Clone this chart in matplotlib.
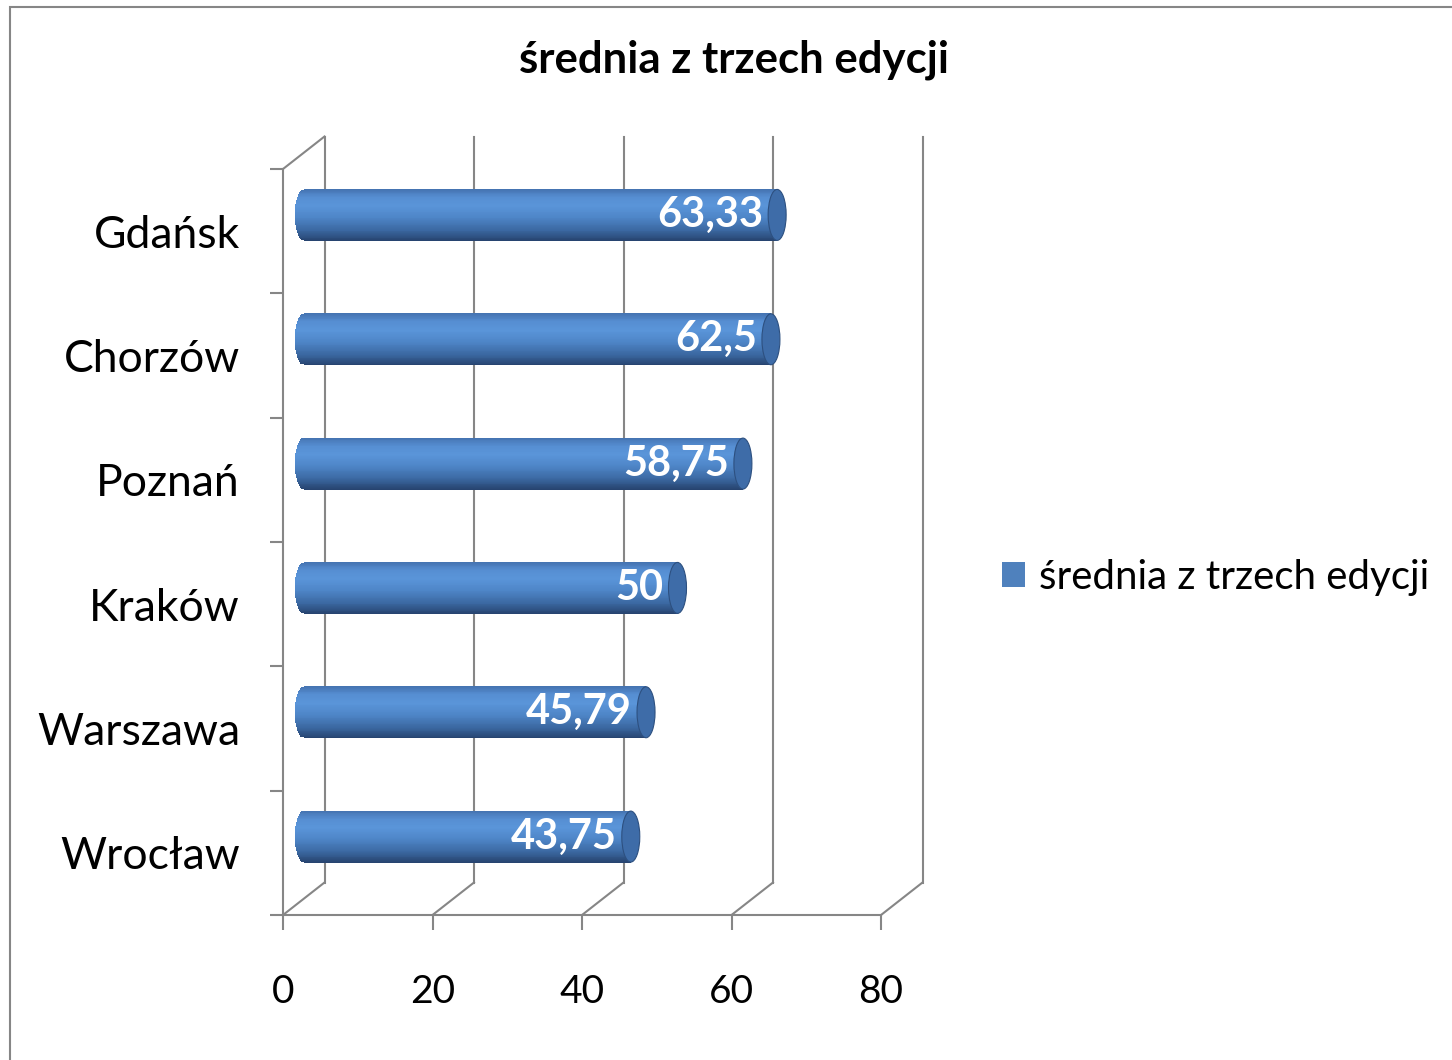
import numpy as np
import matplotlib
matplotlib.use("Agg")
import matplotlib.pyplot as plt
from matplotlib.colors import LinearSegmentedColormap
from matplotlib.patches import Ellipse, Patch, Rectangle

plt.rcParams["font.family"] = ["Lato", "DejaVu Sans"]

# data, top to bottom as shown
cities = ["Gdańsk", "Chorzów", "Poznań", "Kraków", "Warszawa", "Wrocław"]
values = [63.33, 62.5, 58.75, 50, 45.79, 43.75]
value_labels = ["63,33", "62,5", "58,75", "50", "45,79", "43,75"]
x_ticks = [0, 20, 40, 60, 80]
series_name = "średnia z trzech edycji"

GRID = "#868686"
BAR = "#4f81bd"

W, H = 1452, 1060
fig = plt.figure(figsize=(W / 100, H / 100), dpi=100)

# front plane of the 3d box
ax_rect = [283 / W, (H - 915) / H, (881 - 283) / W, (915 - 169) / H]
ax = fig.add_axes(ax_rect)
ax.set_xlim(0, 80)
ax.set_ylim(len(cities), 0)
ax.patch.set_alpha(0)

# depth of the box, converted from pixels to data units
px_x = W * ax_rect[2] / 80
px_y = H * ax_rect[3] / len(cities)
DX = 41.5 / px_x
DY = 32.5 / px_y
ny = len(cities)

# back wall gridlines
for x in x_ticks:
    ax.plot([x + DX, x + DX], [ny - DY, -DY], color=GRID, lw=1.5, zorder=1, clip_on=False)
    # floor diagonals
    ax.plot([x, x + DX], [ny, ny - DY], color=GRID, lw=1.5, zorder=1, clip_on=False)
# left wall top edge
ax.plot([0, DX], [0, -DY], color=GRID, lw=1.5, zorder=1, clip_on=False)

# cylinders
shade = LinearSegmentedColormap.from_list(
    "cyl",
    [(0.0, "#274470"), (0.2, "#3b68a1"), (0.45, "#4e85c7"),
     (0.68, "#5a95d9"), (0.85, "#568ed2"), (1.0, "#4574b2")],
)
bar_h = 0.41
rx = 9.0 / px_x
n_slices = 60
t = np.linspace(-1, 1, n_slices)
dh = bar_h / n_slices
for i, v in enumerate(values):
    yc = i + 0.5 - DY / 2
    xs = DX / 2
    round_in = rx * np.sqrt(np.clip(1 - t ** 2, 0, 1))
    ys = yc - t * bar_h / 2
    ax.barh(ys, v + round_in, left=xs - round_in, height=dh * 1.3,
            color=shade((t + 1) / 2), linewidth=0, zorder=3, clip_on=False)
    cap = Ellipse((xs + v, yc), 2 * rx, bar_h, facecolor="#3e6ca8",
                  edgecolor="#2d5080", lw=0.8, zorder=4, clip_on=False)
    ax.add_patch(cap)
    ax.text(xs + v - 14 / px_x, yc, value_labels[i], color="white",
            fontsize=30, fontweight="bold", ha="right", va="center", zorder=5)

# axes: spines, ticks, labels
for s in ["top", "right"]:
    ax.spines[s].set_visible(False)
for s in ["left", "bottom"]:
    ax.spines[s].set_color(GRID)
    ax.spines[s].set_linewidth(1.5)

ax.set_xticks(x_ticks)
ax.set_xticklabels([str(x) for x in x_ticks])
ax.tick_params(axis="x", length=10.8, width=1.5, color=GRID, pad=32, labelsize=28)

ax.set_yticks(np.arange(ny + 1))
ax.set_yticklabels([])
ax.set_yticks(np.arange(ny) + 0.5, minor=True)
ax.set_yticklabels(cities, minor=True)
ax.tick_params(axis="y", which="major", length=9.4, width=1.5, color=GRID)
ax.tick_params(axis="y", which="minor", length=0, pad=31, labelsize=32)

fig.text(734 / W, 1 - 60 / H, series_name, ha="center", va="center",
         fontsize=31.5, fontweight="bold")

fig.legend(handles=[Patch(facecolor=BAR, label=series_name)],
           loc="center left", bbox_to_anchor=(1002 / W, 1 - 577 / H),
           frameon=False, fontsize=29, handlelength=0.57, handleheight=0.57,
           handletextpad=0.35, borderpad=0, borderaxespad=0)

# outer chart border
fig.add_artist(Rectangle((10 / W, -0.1), 1.2, 1.1 - 7 / H, transform=fig.transFigure,
                         fill=False, edgecolor=GRID, lw=1.5))

fig.savefig("out.png", dpi=100)
